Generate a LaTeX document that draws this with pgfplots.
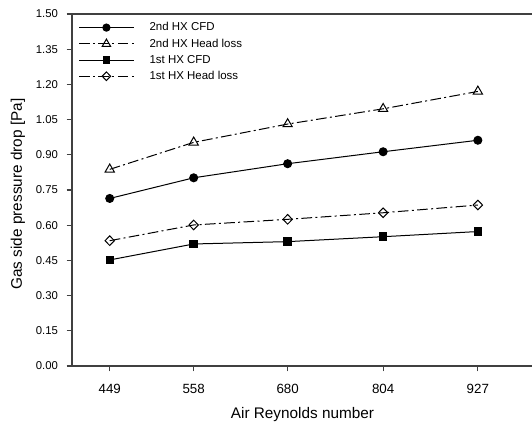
\documentclass[border=0pt]{standalone}
\usepackage{fontspec}
\setmainfont{Liberation Sans}
\usepackage{pgfplots}
\pgfplotsset{compat=1.18}

\begin{document}
\begin{tikzpicture}
\begin{axis}[
  scale only axis,
  width=348.3pt, height=264pt,
  xmin=400, xmax=1003,
  ymin=0, ymax=1.5,
  axis line style={line width=0.8pt, black!75},
  xtick pos=bottom, ytick pos=left,
  tick align=outside,
  major tick length=4pt,
  tick style={line width=0.8pt, black!75},
  xtick={449,558,680,804,927},
  ytick={0,0.15,...,1.51},
  minor tick num=0,
  /pgf/number format/assume math mode=true,
  xticklabel style={font=\fontsize{10}{11}\selectfont, yshift=-6pt, /pgf/number format/1000 sep={}},
  yticklabel style={font=\fontsize{8.5}{9}\selectfont, xshift=-3pt, /pgf/number format/.cd, fixed, fixed zerofill, precision=2},
  xlabel={Air Reynolds number},
  ylabel={Gas side pressure drop [Pa]},
  label style={font=\fontsize{11.5}{12}\selectfont},
  xlabel style={at={(axis description cs:0.4963,0)}, anchor=center, yshift=-36.5pt},
  ylabel style={at={(rel axis cs:0,0.5)}, anchor=center, yshift=40.5pt, xshift=-3pt},
  legend style={draw=none, fill=none, font=\fontsize{8.6}{10}\selectfont,
    at={(rel axis cs:0.005,0.99)}, anchor=north west, row sep=1.5pt,
    nodes={inner sep=1.5pt},
    /tikz/every odd column/.append style={column sep=10pt}},
  legend cell align=left,
  legend image code/.code={%
    \draw[mark repeat=2,mark phase=2,#1, every mark/.append style={scale=0.9}]
      plot coordinates {(0pt,0pt) (20.5pt,0pt) (41pt,0pt)};},
  every axis plot/.append style={line width=0.75pt, black},
]
\addplot[solid, mark=*, mark size=3pt] coordinates {
  (449,0.714) (558,0.802) (680,0.862) (804,0.913) (927,0.962)};
\addlegendentry{2nd HX CFD}
\addplot[dash pattern=on 8pt off 2.5pt on 1.5pt off 2.5pt, mark=triangle, mark size=4pt,
  mark options={solid, fill=white}] coordinates {
  (449,0.838) (558,0.953) (680,1.031) (804,1.096) (927,1.170)};
\addlegendentry{2nd HX Head loss}
\addplot[solid, mark=square*, mark size=2.8pt] coordinates {
  (449,0.452) (558,0.520) (680,0.530) (804,0.551) (927,0.573)};
\addlegendentry{1st HX CFD}
\addplot[dash pattern=on 8pt off 2.5pt on 1.5pt off 2.5pt, mark=diamond, mark size=3.6pt,
  mark options={solid, fill=white, xscale=1.3}] coordinates {
  (449,0.534) (558,0.601) (680,0.625) (804,0.653) (927,0.686)};
\addlegendentry{1st HX Head loss}
\end{axis}
\pgfresetboundingbox
\path (-54pt,-45pt) rectangle (345pt,274.5pt);
\end{tikzpicture}
\end{document}
